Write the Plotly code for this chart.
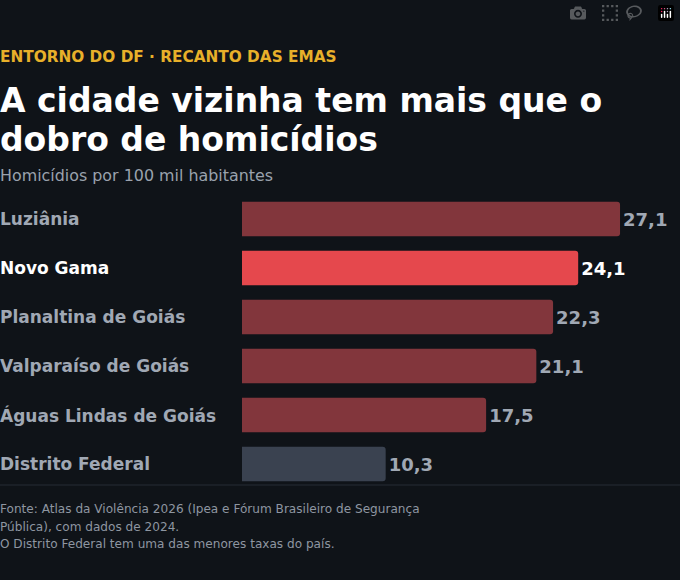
import plotly.graph_objects as go

cidades = ["Luziânia", "Novo Gama", "Planaltina de Goiás", "Valparaíso de Goiás",
           "Águas Lindas de Goiás", "Distrito Federal"]
taxas = [27.1, 24.1, 22.3, 21.1, 17.5, 10.3]
cores = ["#82363c", "#e5484d", "#82363c", "#82363c", "#82363c", "#3a4250"]
cor_label = ["#a0a8b4", "#ffffff", "#a0a8b4", "#a0a8b4", "#a0a8b4", "#a0a8b4"]

W, H = 680, 580
FONT = "DejaVu Sans"
BG = "#0f1318"

ypos = list(range(len(cidades)))

fig = go.Figure(go.Bar(
    x=taxas, y=ypos, orientation="h",
    marker=dict(color=cores, line=dict(width=0), cornerradius=3),
    text=["<b>" + f"{v:.1f}".replace(".", ",") + "</b>" for v in taxas],
    textposition="outside", cliponaxis=False,
    textfont=dict(family=FONT, size=18, color=cor_label),
    hoverinfo="skip",
))

for i, c in enumerate(cidades):
    fig.add_annotation(x=0, y=i, xref="paper", yref="y", text=f"<b>{c}</b>",
                       showarrow=False, xanchor="left", xshift=-2,
                       font=dict(family=FONT, size=17, color=cor_label[i]))

def txt(y, s, size, color, bold=False):
    fig.add_annotation(x=0, y=1 - y / H, xref="paper", yref="paper",
                       text=f"<b>{s}</b>" if bold else s, showarrow=False,
                       xanchor="left", yanchor="middle", xshift=-2,
                       font=dict(family=FONT, size=size, color=color))

# paper coords here span the full page because margins are zero horizontally
txt(57, "ENTORNO DO DF · RECANTO DAS EMAS", 15.3, "#e8b02a", True)
txt(101, "A cidade vizinha tem mais que o", 33, "#ffffff", True)
txt(139, "dobro de homicídios", 33, "#ffffff", True)
txt(176, "Homicídios por 100 mil habitantes", 15.9, "#9aa2ad")
txt(509, "Fonte: Atlas da Violência 2026 (Ipea e Fórum Brasileiro de Segurança", 12.1, "#8e96a1")
txt(527, "Pública), com dados de 2024.", 12.1, "#8e96a1")
txt(544, "O Distrito Federal tem uma das menores taxas do país.", 12.1, "#8e96a1")

fig.add_shape(type="line", xref="paper", yref="paper", x0=0, x1=1,
              y0=1 - 485 / H, y1=1 - 485 / H, line=dict(color="#262c35", width=1))

fig.update_layout(
    width=W, height=H, paper_bgcolor=BG, plot_bgcolor=BG,
    margin=dict(l=0, r=0, t=0, b=0), showlegend=False, bargap=0.3,
    xaxis=dict(domain=[242 / W, 1], range=[0, 438 / 13.95], visible=False, fixedrange=True),
    yaxis=dict(domain=[1 - 488.5 / H, 1 - 194.5 / H], range=[5.5, -0.5],
               visible=False, fixedrange=True),
)

fig.write_html("out.html",
               post_script="document.body.style.margin='0';document.body.style.background='%s';" % BG)
